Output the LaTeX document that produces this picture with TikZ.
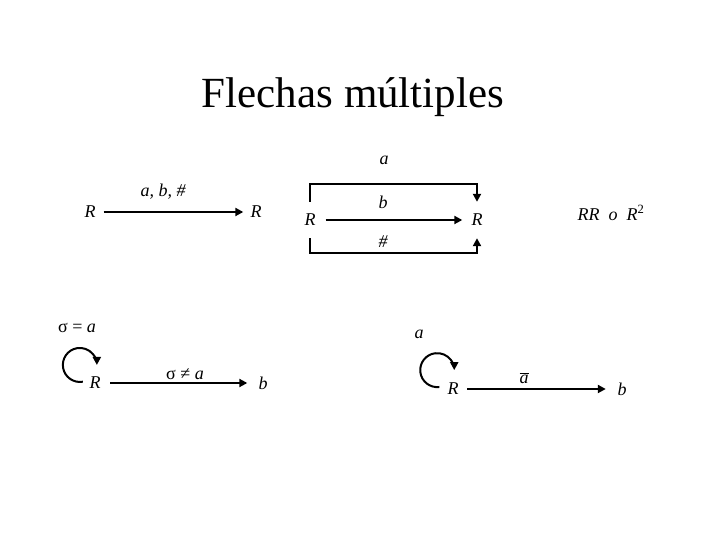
\documentclass[tikz,border=0pt]{standalone}
\usepackage{fontspec}
\setmainfont{Liberation Serif}
\usetikzlibrary{arrows.meta}
\tikzset{
    flow/.style={-{Triangle[length=8pt,width=8pt]}, line width=2.5pt},
    lbl/.style={font=\fontsize{18}{21}\selectfont\itshape, inner sep=2pt},
    state/.style={lbl},
    tall state/.style={state, minimum height=36pt},
    loopflow/.style={-{Triangle[length=8pt,width=8pt]}, line width=2pt},
}
\newcommand{\selfloop}[2]{
    \draw[loopflow] (#1) arc[start angle=#2, end angle=0, radius=17pt];
}

\begin{document}
\begin{tikzpicture}[x=1pt, y=1pt]
    \useasboundingbox (0,0) rectangle (720,540);

    \node[font=\fontsize{43}{50}\selectfont] (title) at (353,443) {Flechas múltiples};

    % una flecha, varias etiquetas
    \node[state] (rA) at (90,328) {R};
    \node[state] (rB) at (256,328) {R};
    \draw[flow, shorten <=6pt, shorten >=5pt] (rA.east) -- (rB.west);
    \node[lbl] (lblAB) at (163,348) {a, b, \#};

    % flechas separadas
    \node[tall state] (rL) at (310,320) {R};
    \node[tall state] (rR) at (477,320) {R};
    \draw[flow] (rL.north) -- ++(0,18) -| (rR.north);
    \draw[flow, shorten <=8pt, shorten >=7pt] (rL.east) -- (rR.west);
    \draw[flow] (rL.south) -- ++(0,-15) -| (rR.south);
    \node[lbl] (lblA) at (384,380) {a};
    \node[lbl] (lblB) at (383,338) {b};
    \node[lbl] (lblH) at (383,298) {\#};
    \node[lbl] (lblRR) at (611,327) {RR\ \ o\ \ R\textsuperscript{\upshape 2}};

    % sigma
    \node[lbl, font=\fontsize{18}{21}\selectfont] (lblEq) at (77,212) {σ = \textit{a}};
    \node[state] (rS) at (95,157) {R};
    \node[state] (bS) at (263,157) {b};
    \selfloop{[shift={(-4.5pt,1.3pt)}]rS.west}{280}
    \draw[flow, shorten <=7.5pt, shorten >=9pt] (rS.east) -- (bS.west);
    \node[lbl, font=\fontsize{18}{21}\selectfont] (lblNe) at (185,166) {σ ≠ \textit{a}};

    % complemento
    \node[lbl] (lblA2) at (419,206) {a};
    \node[state] (rT) at (453,151) {R};
    \node[state] (bT) at (622,151) {b};
    \selfloop{[shift={(-6pt,2pt)}]rT.west}{277}
    \draw[flow, shorten <=6.5pt, shorten >=9.5pt] (rT.east) -- (bT.west);
    \node[lbl] (lblAbar) at (524,162) {$\overline{\mbox{\itshape a}}$};
\end{tikzpicture}
\end{document}
